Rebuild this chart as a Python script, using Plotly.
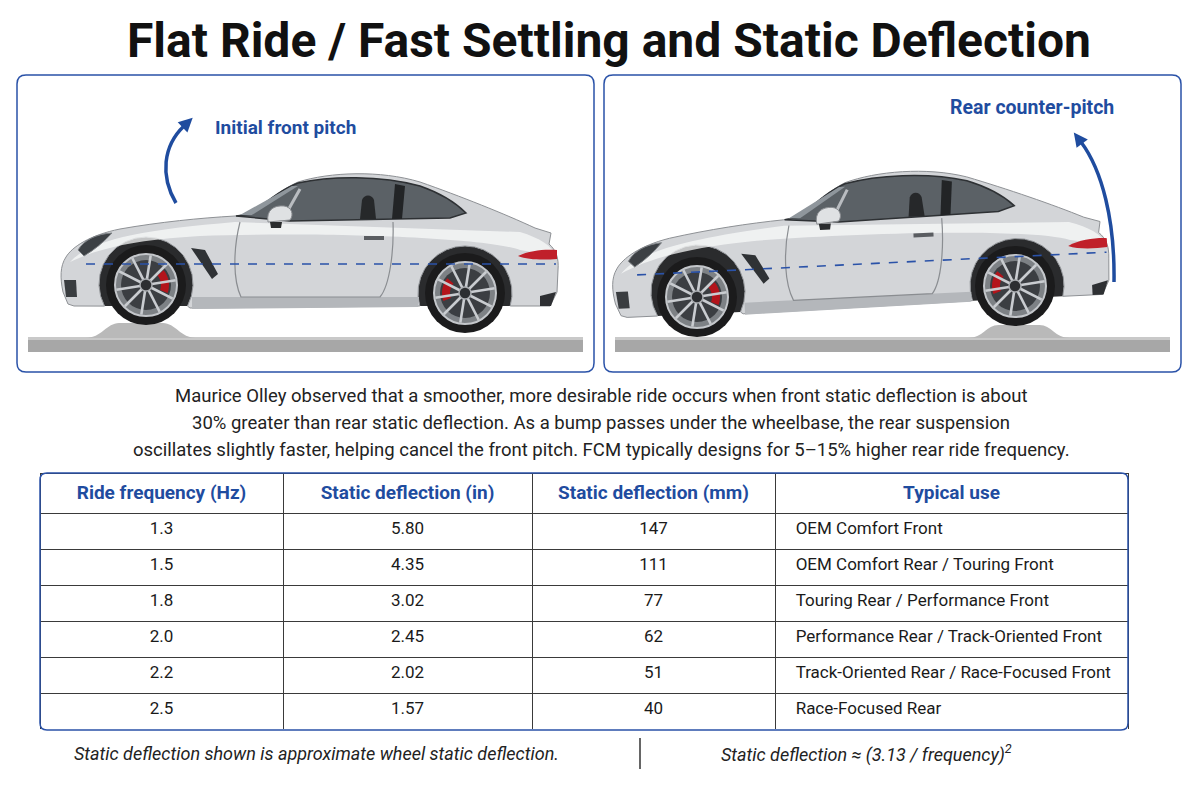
import math
import plotly.graph_objects as go

# the page body has an 8px margin, so the figure is drawn in page pixels 8..1190 / 8..791
OFF = 8
W, H = 1182, 783

# ---- data -------------------------------------------------------------
title = "Flat Ride / Fast Settling and Static Deflection"
label_left = "Initial front pitch"
label_right = "Rear counter-pitch"

paragraph = [
    "Maurice Olley observed that a smoother, more desirable ride occurs when front static deflection is about",
    "30% greater than rear static deflection. As a bump passes under the wheelbase, the rear suspension",
    "oscillates slightly faster, helping cancel the front pitch. FCM typically designs for 5\u201315% higher rear ride frequency.",
]

headers = ["Ride frequency (Hz)", "Static deflection (in)", "Static deflection (mm)", "Typical use"]
ride_freq = ["1.3", "1.5", "1.8", "2.0", "2.2", "2.5"]
defl_in = ["5.80", "4.35", "3.02", "2.45", "2.02", "1.57"]
defl_mm = ["147", "111", "77", "62", "51", "40"]
typical_use = [
    "OEM Comfort Front",
    "OEM Comfort Rear / Touring Front",
    "Touring Rear / Performance Front",
    "Performance Rear / Track-Oriented Front",
    "Track-Oriented Rear / Race-Focused Front",
    "Race-Focused Rear",
]

note_left = "Static deflection shown is approximate wheel static deflection."
note_right = "Static deflection \u2248 (3.13 / frequency)<sup>2</sup>"

BLUE = "#1f4c9f"
FONT = "Roboto, 'Noto Sans', sans-serif"

shapes = []


# ---- helpers for the car illustration ----------------------------------
def xf(pts, ang, piv, dst):
    c, s = math.cos(ang), math.sin(ang)
    out = []
    for x, y in pts:
        dx, dy = x - piv[0], y - piv[1]
        out.append((dst[0] + dx * c - dy * s, dst[1] + dx * s + dy * c))
    return out


def arc(cx, cy, r, a0, a1, n=18):
    pts = []
    for i in range(n + 1):
        a = math.radians(a0 + (a1 - a0) * i / n)
        pts.append((cx + r * math.cos(a), cy - r * math.sin(a)))
    return pts


def path(cmds, ang=0.0, piv=(0, 0), dst=(0, 0)):
    out = []
    for op, pts in cmds:
        if op == "Z":
            out.append("Z")
            continue
        tp = xf(pts, ang, piv, dst)
        if op in ("M", "L"):
            # plotly only converts the first pair of an M/L segment
            for i, (x, y) in enumerate(tp):
                o = "M" if (op == "M" and i == 0) else "L"
                out.append(f"{o} {x:.1f},{y:.1f}")
        else:
            out.append(op + " " + " ".join(f"{x:.1f},{y:.1f}" for x, y in tp))
    return " ".join(out)


def add_path(d, fill="rgba(0,0,0,0)", line="rgba(0,0,0,0)", width=1, dash=None):
    shapes.append(dict(type="path", path=d, xref="x", yref="y", fillcolor=fill,
                       line=dict(color=line, width=width, dash=dash), layer="above"))


def add_circle(cx, cy, r, fill, line="rgba(0,0,0,0)", width=1):
    shapes.append(dict(type="circle", xref="x", yref="y", x0=cx - r, x1=cx + r,
                       y0=cy - r, y1=cy + r, fillcolor=fill,
                       line=dict(color=line, width=width), layer="above"))


def polyline(pts):
    return path([("M", pts), ("Z", [])])


FW = (146, 284)   # front wheel-arch centre of the base drawing
RW = (465, 293)   # rear wheel-arch centre of the base drawing
PIV = (146, 264)


def body_cmds():
    rear_arch = arc(RW[0], RW[1], 47, -16, 196)
    front_arch = arc(FW[0], FW[1], 47, -28, 208)
    cmds = [
        ("M", [(68, 304)]),
        ("L", [(63, 292)]),
        ("C", [(60, 278), (60, 266), (66, 257)]),
        ("C", [(72, 247), (90, 235), (120, 229)]),
        ("C", [(160, 222), (200, 218), (235, 216)]),
        ("L", [(252, 214)]),
        ("C", [(270, 198), (285, 188), (298, 182)]),
        ("C", [(330, 172), (380, 170), (420, 182)]),
        ("C", [(460, 196), (505, 214), (535, 228)]),
        ("L", [(551, 233), (549, 244)]),
        ("C", [(556, 250), (559, 258), (558, 270)]),
        ("L", [(557, 292), (550, 306)]),
        ("L", rear_arch),
        ("L", [(190, 308)]),
        ("L", front_arch),
        ("L", [(74, 306)]),
        ("Z", []),
    ]
    return cmds, rear_arch, front_arch


def draw_car(ang, dst, wheels):
    cmds, rear_arch, front_arch = body_cmds()
    # wheel wells
    add_path(path([("M", rear_arch), ("Z", [])], ang, PIV, dst), fill="#2a2b2d")
    add_path(path([("M", front_arch), ("Z", [])], ang, PIV, dst), fill="#2a2b2d")
    # wheels
    for (cx, cy), cal in zip(wheels, [10, 170]):
        add_circle(cx, cy, 40, "#1b1b1c")
        add_circle(cx, cy, 31, "#7d8185", line="#c4c7cb", width=2)
        add_circle(cx, cy, 25, "#3b3e42")
        a0 = cal - 30
        calp = arc(cx, cy, 23, a0, a0 + 60, 8) + arc(cx, cy, 15, a0 + 60, a0, 8)
        add_path(polyline(calp), fill="#b3141b")
        for k in range(10):
            a = math.radians(k * 36 + 9)
            sx, sy = cx + 6 * math.cos(a), cy - 6 * math.sin(a)
            ex, ey = cx + 30 * math.cos(a), cy - 30 * math.sin(a)
            shapes.append(dict(type="line", xref="x", yref="y", x0=sx, y0=sy, x1=ex, y1=ey,
                               line=dict(color="#c9ccd0", width=2.6), layer="above"))
        add_circle(cx, cy, 6, "#2c2e31", line="#a9acb0", width=1.5)
    # body
    add_path(path(cmds, ang, PIV, dst), fill="#d3d5d8", line="#8e9195", width=1)
    # upper highlight
    add_path(path([("M", [(70, 262)]), ("C", [(90, 240), (140, 230), (235, 222)]),
                   ("L", [(520, 232)]), ("C", [(540, 238), (552, 246), (556, 256)]),
                   ("L", [(520, 250)]), ("C", [(480, 236), (300, 232), (200, 236)]),
                   ("C", [(130, 240), (95, 250), (70, 262)]), ("Z", [])], ang, PIV, dst),
             fill="rgba(248,249,250,0.75)")
    # lower shade / side skirt
    add_path(path([("M", [(192, 297), (419, 297), (418, 307), (192, 309)]), ("Z", [])],
                  ang, PIV, dst), fill="#b4b7bb")
    # glass
    add_path(path([("M", [(236, 216), (252, 214)]), ("C", [(270, 198), (285, 188), (298, 183)]),
                   ("C", [(330, 176), (380, 175), (420, 186)]), ("C", [(440, 193), (456, 203), (466, 213)]),
                   ("L", [(450, 218), (290, 221)]), ("Z", [])], ang, PIV, dst),
             fill="#5b6166", line="#2e3134", width=1.5)
    # windshield reflection and pillars
    add_path(path([("M", [(240, 215), (292, 186), (298, 186), (252, 215)]), ("Z", [])], ang, PIV, dst),
             fill="#8f969c")
    add_path(path([("M", [(395, 184), (405, 186), (402, 219), (392, 219)]), ("Z", [])], ang, PIV, dst),
             fill="#222426")
    add_path(path([("M", [(282, 221), (300, 189)])], ang, PIV, dst), line="#b9bcc0", width=3)
    # seat silhouette
    add_path(path([("M", [(360, 219), (362, 200)]), ("C", [(364, 194), (372, 194), (374, 200)]),
                   ("L", [(376, 219)]), ("Z", [])], ang, PIV, dst), fill="#26282a")
    # door
    add_path(path([("M", [(240, 222)]), ("C", [(233, 250), (233, 280), (241, 297)]),
                   ("L", [(380, 297)]), ("C", [(390, 285), (394, 250), (393, 222)])], ang, PIV, dst),
             line="#8a8d91", width=1.2)
    add_path(path([("M", [(364, 236), (384, 236), (384, 240), (364, 240)]), ("Z", [])], ang, PIV, dst),
             fill="#5a5d61")
    # mirror
    add_path(path([("M", [(268, 222)]), ("C", [(266, 210), (274, 205), (284, 206)]),
                   ("C", [(292, 207), (294, 215), (290, 220)]), ("Z", [])], ang, PIV, dst),
             fill="#dfe1e3", line="#8a8d91", width=1)
    add_path(path([("M", [(270, 222), (282, 222), (281, 228), (271, 228)]), ("Z", [])], ang, PIV, dst),
             fill="#2a2c2e")
    # side vent
    add_path(path([("M", [(191, 248), (205, 250), (218, 274), (212, 279)]), ("Z", [])], ang, PIV, dst),
             fill="#2f3235")
    # headlight
    add_path(path([("M", [(78, 250)]), ("C", [(84, 240), (96, 234), (112, 233)]),
                   ("C", [(104, 242), (94, 250), (84, 256)]), ("Z", [])], ang, PIV, dst),
             fill="#3c4044", line="#7d8185", width=1)
    # front intake
    add_path(path([("M", [(64, 280), (76, 280), (77, 297), (66, 297)]), ("Z", [])], ang, PIV, dst),
             fill="#3a3d40")
    # tail light
    add_path(path([("M", [(518, 256)]), ("C", [(530, 250), (546, 249), (557, 250)]),
                   ("L", [(557, 259)]), ("C", [(544, 260), (528, 260), (518, 256)]), ("Z", [])],
                  ang, PIV, dst), fill="#c0202a")
    # rear diffuser
    add_path(path([("M", [(540, 296), (556, 292), (551, 306), (540, 306)]), ("Z", [])], ang, PIV, dst),
             fill="#2e3033")
    # reference line
    add_path(path([("M", [(86, 264), (556, 264)])], ang, PIV, dst),
             line="#2a52a8", width=1.6, dash="dash")


def road(x0, x1, bx0, bx1, top):
    add_path(polyline([(x0, 337), (x1, 337), (x1, 352), (x0, 352)]), fill="#a7a7a7")
    add_path(polyline([(x0, 337), (x1, 337), (x1, 340), (x0, 340)]), fill="#c9c9c9")
    mid0, mid1 = bx0 + (bx1 - bx0) * 0.3, bx0 + (bx1 - bx0) * 0.7
    d = (f"M {bx0},338 C {bx0 + 15},338 {mid0 - 12},{top} {mid0},{top} "
         f"L {mid1},{top} C {mid1 + 12},{top} {bx1 - 15},338 {bx1},338 Z")
    add_path(d, fill="#b9b9b9")


def rounded_rect(x0, y0, x1, y1, r):
    return (f"M {x0 + r},{y0} L {x1 - r},{y0} Q {x1},{y0} {x1},{y0 + r} L {x1},{y1 - r} "
            f"Q {x1},{y1} {x1 - r},{y1} L {x0 + r},{y1} Q {x0},{y1} {x0},{y1 - r} "
            f"L {x0},{y0 + r} Q {x0},{y0} {x0 + r},{y0} Z")


def arrow(p0, c1, c2, p1):
    add_path(f"M {p0[0]},{p0[1]} C {c1[0]},{c1[1]} {c2[0]},{c2[1]} {p1[0]},{p1[1]}",
             line=BLUE, width=3.5)
    dx, dy = p1[0] - c2[0], p1[1] - c2[1]
    n = math.hypot(dx, dy)
    ux, uy = dx / n, dy / n
    px, py = -uy, ux
    tip = (p1[0] + ux * 12, p1[1] + uy * 12)
    b1 = (p1[0] - ux * 2 + px * 7, p1[1] - uy * 2 + py * 7)
    b2 = (p1[0] - ux * 2 - px * 7, p1[1] - uy * 2 - py * 7)
    add_path(polyline([tip, b1, b2]), fill=BLUE)


# ---- panels ------------------------------------------------------------
add_path(rounded_rect(17, 75, 594, 372, 9), fill="white", line="#2a52a8", width=1.5)
add_path(rounded_rect(604, 75, 1181, 372, 9), fill="white", line="#2a52a8", width=1.5)

road(28, 583, 86, 196, 323)
road(615, 1170, 968, 1070, 325)

draw_car(0.0, PIV, [(146, 285), (465, 293)])
ang_r = math.atan2(-18, 372)
draw_car(ang_r, (697, 272), [(697, 297), (1015, 286)])

arrow((176, 203), (160, 176), (163, 146), (184, 126))
arrow((1114, 282), (1115, 220), (1102, 170), (1081, 142))

# table outline and footer separator
add_path(rounded_rect(40, 473, 1128, 730, 7), line="#2a52a8", width=1.5)
shapes.append(dict(type="line", xref="x", yref="y", x0=640, x1=640, y0=738, y1=769,
                   line=dict(color="#333333", width=1.5), layer="above"))

# ---- annotations -------------------------------------------------------
ann = [
    dict(x=609, y=40, text=f"<b>{title}</b>", font=dict(family=FONT, size=48, color="#111111")),
    dict(x=213, y=127, text=f"<b>{label_left}</b>", xanchor="left",
         font=dict(family=FONT, size=19, color=BLUE)),
    dict(x=1032, y=107, text=f"<b>{label_right}</b>", font=dict(family=FONT, size=19.5, color=BLUE)),
    dict(x=316, y=753, text=f"<i>{note_left}</i>", font=dict(family=FONT, size=18, color="#222222")),
    dict(x=866, y=753, text=f"<i>{note_right}</i>", font=dict(family=FONT, size=18, color="#222222")),
]
for i, line in enumerate(paragraph):
    ann.append(dict(x=601, y=396 + 27 * i, text=line, font=dict(family=FONT, size=18.5, color="#222222")))
for a in ann:
    a.update(xref="x", yref="y", showarrow=False)
    a.setdefault("xanchor", "center")
    a["yanchor"] = "middle"


def fx(px):
    return (px - OFF) / W


def fy(py):
    return 1 - (py - OFF) / H


fig = go.Figure()
fig.add_trace(go.Scatter(x=[], y=[], hoverinfo="skip", showlegend=False))
fig.add_trace(go.Table(
    domain=dict(x=[fx(40), fx(1128)], y=[fy(730), fy(473)]),
    columnwidth=[243, 249, 243, 353],
    header=dict(values=[f"<b>{h}</b>" for h in headers], height=40, align="center",
                fill_color="white", line=dict(color="#3a3a3a", width=1),
                font=dict(family=FONT, size=19, color=BLUE)),
    cells=dict(values=[ride_freq, defl_in, defl_mm,
                       ["\u00a0\u00a0\u00a0" + u for u in typical_use]],
               height=36, align=["center", "center", "center", "left"],
               fill_color="white", line=dict(color="#3a3a3a", width=1),
               font=dict(family=FONT, size=17, color="#1a1a1a")),
))

fig.update_layout(
    width=W, height=H, margin=dict(l=0, r=0, t=0, b=0),
    paper_bgcolor="white", plot_bgcolor="white",
    xaxis=dict(range=[OFF, OFF + W], visible=False, fixedrange=True),
    yaxis=dict(range=[OFF + H, OFF], visible=False, fixedrange=True),
    shapes=shapes, annotations=ann, showlegend=False,
)

fig.write_html("out.html")
